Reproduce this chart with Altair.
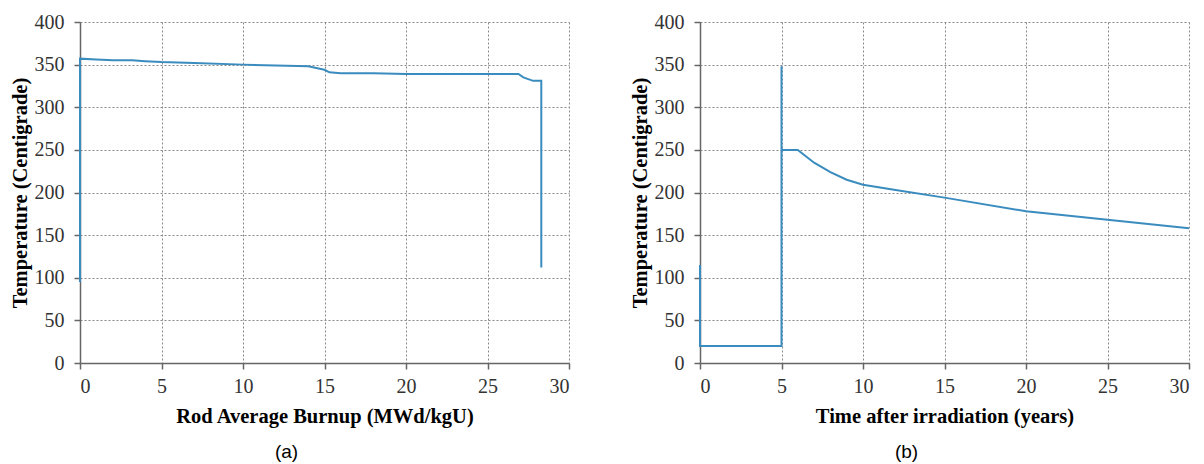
import altair as alt
import pandas as pd

# Panel (a): rod temperature against rod average burnup
burnup = [0.0, 0.0, 1.0, 2.0, 3.2, 4.0, 5.0, 7.0, 10.0, 12.0, 14.0, 14.5, 15.0,
          15.3, 16.0, 18.0, 20.0, 22.0, 25.0, 26.9, 27.2, 27.8, 28.3, 28.3]
temp_a = [95, 357, 356, 355, 355, 354, 353, 352, 350, 349, 348, 346, 344,
          341, 340, 340, 339, 339, 339, 339, 335, 331, 331, 112]

# Panel (b): temperature against time after irradiation
years = [0.0, 0.0, 5.0, 5.0, 5.0, 6.0, 7.0, 8.0, 9.0, 10.0, 12.0, 15.0, 20.0, 25.0, 30.0]
temp_b = [115, 20, 20, 348, 250, 250, 235, 224, 215, 209, 203, 194, 178, 168, 158]

x_ticks = [0, 5, 10, 15, 20, 25, 30]
y_ticks = [0, 50, 100, 150, 200, 250, 300, 350, 400]

LINE = "#3a8cbf"
SERIF = "'Liberation Serif', 'Times New Roman', 'DejaVu Serif', serif"

axis_style = dict(
    grid=True,
    tickSize=6,
    labelFont=SERIF, labelFontSize=20, labelColor="#333",
    titleFont=SERIF, titleFontSize=20.5, titleFontWeight="bold", titleColor="#000",
    domainColor="#666", domainWidth=1.5, tickColor="#666", tickWidth=1.5,
    gridColor="#888", gridDash=[2, 2], gridWidth=1,
)


def panel(df, xtitle, caption):
    x_axis = alt.Axis(values=x_ticks, title=xtitle, labelAngle=0,
                      labelPadding=7, titlePadding=10, **axis_style)
    y_axis = alt.Axis(values=y_ticks, title="Temperature (Centigrade)",
                      labelPadding=10, titlePadding=4, **axis_style)
    return (
        alt.Chart(df)
        .mark_line(color=LINE, strokeWidth=2)
        .encode(
            x=alt.X("x:Q", scale=alt.Scale(domain=[0, 30], nice=False), axis=x_axis),
            y=alt.Y("y:Q", scale=alt.Scale(domain=[0, 400], nice=False), axis=y_axis),
            order="i:Q",
        )
        .properties(
            width=489,
            height=341,
            title=alt.TitleParams(caption, orient="bottom", anchor="middle", dx=-38,
                                  font="'Liberation Sans', Arial, sans-serif", fontSize=19,
                                  fontWeight="normal", color="#000", offset=16),
        )
    )


df_a = pd.DataFrame({"x": burnup, "y": temp_a, "i": range(len(burnup))})
df_b = pd.DataFrame({"x": years, "y": temp_b, "i": range(len(years))})

chart = (
    alt.hconcat(
        panel(df_a, "Rod Average Burnup  (MWd/kgU)", "(a)"),
        panel(df_b, "Time after irradiation (years)", "(b)"),
        spacing=60,
    )
    .properties(padding={"left": 10, "top": 12, "right": 0, "bottom": 0})
    .configure_view(stroke=None)
)

chart.save("out.html", embed_options={"renderer": "svg", "actions": False})
